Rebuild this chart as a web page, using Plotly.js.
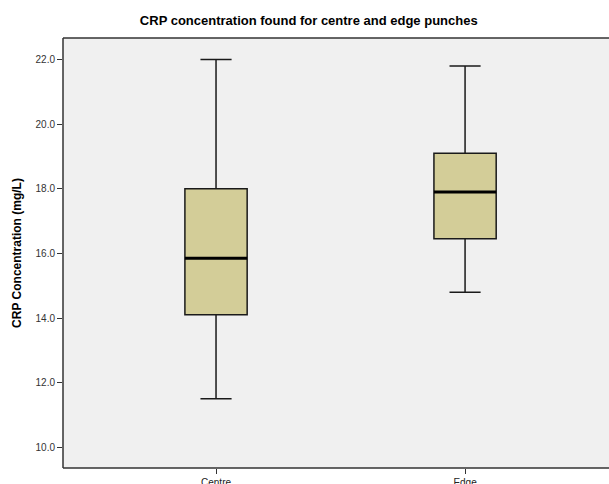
<!DOCTYPE html>
<html>
<head>
<meta charset="utf-8">
<script src="https://cdn.plot.ly/plotly-3.0.1.min.js"></script>
<style>
  html, body { margin: 0; padding: 0; background: #ffffff; overflow: hidden; }
  #chart { width: 609px; height: 484px; overflow: hidden; }
</style>
</head>
<body>
<div id="chart"></div>
<script>
// Punch location groups
const categories = ['Centre', 'Edge'];

// Five-number summaries of CRP concentration (mg/L)
const lowerWhisker = [11.5, 14.8];
const q1Values = [14.1, 16.45];
const medianValues = [15.85, 17.9];
const q3Values = [18.0, 19.1];
const upperWhisker = [22.0, 21.8];

// Y axis tick values
const yTickVals = [10, 12, 14, 16, 18, 20, 22];

const boxFill = '#d3cd98';
const plotBg = '#f0f0f0';
const boxWidth = 0.25;
const frameColor = '#333333';

const boxes = {
  type: 'box',
  x: categories,
  q1: q1Values,
  median: medianValues,
  q3: q3Values,
  lowerfence: lowerWhisker,
  upperfence: upperWhisker,
  width: boxWidth,
  whiskerwidth: 0.5,
  fillcolor: boxFill,
  line: { color: '#1a1a1a', width: 1.5 },
  hoverinfo: 'skip',
  showlegend: false
};

// Heavier median bars drawn as collapsed boxes on top
const medians = {
  type: 'box',
  x: categories,
  q1: medianValues,
  median: medianValues,
  q3: medianValues,
  lowerfence: medianValues,
  upperfence: medianValues,
  width: boxWidth,
  whiskerwidth: 0,
  fillcolor: 'rgba(0,0,0,0)',
  line: { color: '#000000', width: 3 },
  hoverinfo: 'skip',
  showlegend: false
};

// Frame on the left, top and bottom of the plot area (open on the right)
const frameLine = (x0, x1, y0, y1) => ({
  type: 'line', xref: 'paper', yref: 'paper', x0, x1, y0, y1,
  line: { color: frameColor, width: 1.5 }, layer: 'above'
});

// Keep the right-hand edge of the plot area plain
const openEdge = {
  type: 'rect', xref: 'paper', yref: 'paper',
  x0: 0.992, x1: 1.02, y0: 0, y1: 1,
  fillcolor: plotBg, line: { width: 0 }, layer: 'above'
};

const layout = {
  width: 609,
  height: 484,
  autosize: false,
  paper_bgcolor: '#ffffff',
  plot_bgcolor: plotBg,
  boxmode: 'overlay',
  margin: { l: 63, r: 0, t: 38, b: 16 },
  font: { family: 'Liberation Sans, Arial, sans-serif', color: '#222222', size: 10 },
  title: {
    text: '<b>CRP concentration found for centre and edge punches</b>',
    font: { family: 'Liberation Sans, Arial, sans-serif', size: 13, color: '#000000' },
    xref: 'container', x: 0.507, xanchor: 'center',
    yref: 'container', y: 0.958, yanchor: 'middle'
  },
  xaxis: {
    type: 'category',
    range: [-0.6145, 1.578],
    showline: false,
    ticks: 'outside',
    ticklen: 5,
    tickcolor: frameColor,
    tickfont: { size: 10, color: '#222222' },
    showgrid: false,
    zeroline: false,
    fixedrange: true
  },
  yaxis: {
    range: [9.358, 22.667],
    tickvals: yTickVals,
    tickformat: '.1f',
    showline: false,
    ticks: 'outside',
    ticklen: 5,
    tickcolor: frameColor,
    tickfont: { size: 10, color: '#333333' },
    showgrid: false,
    zeroline: false,
    title: {
      text: '<b>CRP Concentration (mg/L)</b>',
      font: { family: 'Liberation Sans, Arial, sans-serif', size: 12, color: '#000000' },
      standoff: 11
    },
    fixedrange: true
  },
  shapes: [
    openEdge,
    frameLine(0, 0, 0, 1),
    frameLine(0, 1, 1, 1),
    frameLine(0, 1, 0, 0)
  ]
};

Plotly.newPlot('chart', [boxes, medians], layout, { displayModeBar: false, staticPlot: true });
</script>
</body>
</html>
